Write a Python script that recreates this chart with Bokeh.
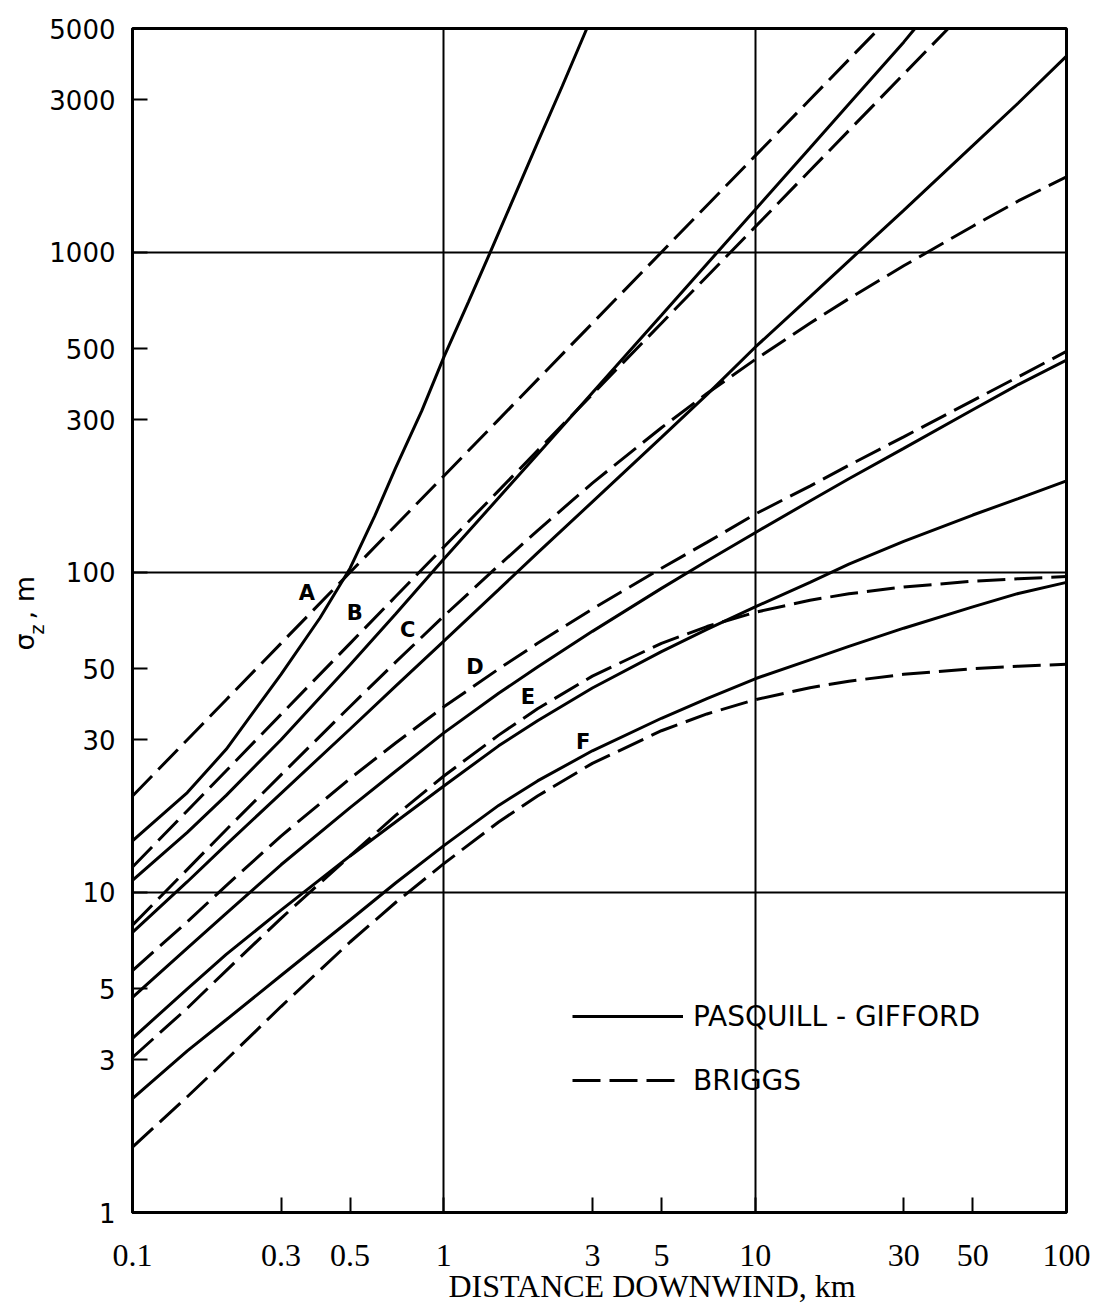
from bokeh.plotting import figure
from bokeh.models import FixedTicker, Legend, LegendItem, Title
from bokeh.core.properties import value
from bokeh.embed import file_html
from bokeh.resources import INLINE

# ---------------- data (distance km, sigma_z m) ----------------
X_TICKS = [0.1, 0.3, 0.5, 1, 3, 5, 10, 30, 50, 100]
X_TICK_LABELS = ["0.1", "0.3", "0.5", "1", "3", "5", "10", "30", "50", "100"]
Y_TICKS = [1, 3, 5, 10, 30, 50, 100, 300, 500, 1000, 3000, 5000]
Y_TICK_LABELS = ["1", "3", "5", "10", "30", "50", "100", "300", "500", "1000", "3000", "5000"]

X_KM = [0.1, 0.15, 0.2, 0.3, 0.5, 0.7, 1, 1.5, 2, 3, 5, 7, 10, 15, 20, 30, 50, 70, 100]

# Pasquill-Gifford (solid)
PG_A_X = [0.1, 0.15, 0.2, 0.3, 0.4, 0.5, 0.6, 0.7, 0.85, 1, 1.2, 1.4, 1.7, 2, 2.4, 2.88]
PG_A = [14.5, 20.5, 28, 48, 72, 103, 150, 212, 320, 470, 700, 985, 1525, 2200, 3300, 5000]
PG_B_X = [0.1, 0.15, 0.2, 0.3, 0.5, 0.7, 1, 1.5, 2, 3, 5, 7, 10, 15, 20, 30, 32.6]
PG_B = [10.9, 15.4, 20.1, 30.0, 51.4, 74.1, 110, 171, 234, 364, 635, 919, 1358, 2118, 2905, 4532, 5000]
PG_C = [7.5, 10.8, 14.1, 20.4, 32.4, 44.1, 61, 88.3, 115, 166, 264, 359, 505, 725, 940, 1352, 2153, 2926, 4100]
PG_D = [4.7, 6.7, 8.6, 12.2, 18.4, 23.9, 31.5, 41.9, 50.6, 65.4, 89.1, 108.5, 133, 167, 196, 244, 322, 386, 460]
PG_E = [3.5, 5.0, 6.4, 8.8, 13.0, 16.6, 21.5, 28.7, 34.4, 43.5, 56.5, 66.3, 78, 93, 106, 125, 151, 170, 193]
PG_F = [2.27, 3.2, 4.0, 5.5, 8.2, 10.7, 14.0, 18.7, 22.3, 27.7, 35.0, 40.3, 46.5, 53.3, 58.7, 66.9, 78.0, 85.9, 93]

# Briggs (dashed)
BR_A_X = [0.1, 0.15, 0.2, 0.3, 0.5, 0.7, 1, 1.5, 2, 3, 5, 7, 10, 15, 20, 25]
BR_A = [20, 30, 40, 60, 100, 140, 200, 300, 400, 600, 1000, 1400, 2000, 3000, 4000, 5000]
BR_B_X = [0.1, 0.15, 0.2, 0.3, 0.5, 0.7, 1, 1.5, 2, 3, 5, 7, 10, 15, 20, 30, 41.7]
BR_B = [12, 18, 24, 36, 60, 84, 120, 180, 240, 360, 600, 840, 1200, 1800, 2400, 3600, 5000]
BR_C = [7.9, 11.8, 15.7, 23.3, 38.1, 52.4, 73.0, 105, 135, 190, 283, 362, 462, 600, 716, 907, 1206, 1446, 1720]
BR_D = [5.7, 8.1, 10.5, 15.0, 22.7, 29.3, 38.0, 49.9, 60, 76.8, 103, 124, 152, 186, 216, 265, 344, 408, 490]
BR_E = [3.05, 4.35, 5.7, 8.3, 13.0, 17.4, 23.1, 31.0, 37.5, 47.4, 60, 67.7, 75, 81.8, 85.7, 90, 93.8, 95.5, 97]
BR_F = [1.6, 2.3, 3.0, 4.4, 7.0, 9.3, 12.3, 16.6, 20, 25.3, 32, 36.1, 40, 43.6, 45.7, 48, 50, 50.9, 51.6]

# stability-class letters placed beside the curves
CLASS_LETTERS = ["A", "B", "C", "D", "E", "F"]
CLASS_LETTER_X = [0.363, 0.517, 0.766, 1.258, 1.862, 2.80]
CLASS_LETTER_Y = [86, 74.5, 65.9, 50.5, 40.7, 29.4]

# ---------------- figure ----------------
p = figure(width=1114, height=1312, x_axis_type="log", y_axis_type="log",
           x_range=(0.1, 100), y_range=(1, 5000),
           output_backend="svg", toolbar_location=None,
           min_border_left=132, min_border_right=48,
           min_border_top=28, min_border_bottom=100)
p.background_fill_color = "white"
p.border_fill_color = "white"
p.outline_line_color = "black"
p.outline_line_width = 3

# grid only at the decades
p.xgrid.ticker = FixedTicker(ticks=[1, 10])
p.ygrid.ticker = FixedTicker(ticks=[10, 100, 1000])
for g in (p.xgrid, p.ygrid):
    g.grid_line_color = "black"
    g.grid_line_width = 2
    g.grid_line_alpha = 1.0

# axes
p.xaxis.ticker = FixedTicker(ticks=X_TICKS)
p.xaxis.major_label_overrides = {t: l for t, l in zip(X_TICKS, X_TICK_LABELS)}
p.yaxis.ticker = FixedTicker(ticks=Y_TICKS)
p.yaxis.major_label_overrides = {t: l for t, l in zip(Y_TICKS, Y_TICK_LABELS)}
for ax in (p.xaxis, p.yaxis):
    ax.axis_line_color = "black"
    ax.axis_line_width = 3
    ax.major_tick_in = 15
    ax.major_tick_out = 0
    ax.major_tick_line_width = 2
    ax.major_tick_line_color = "black"
    ax.minor_tick_line_color = None
    ax.major_label_text_color = "black"

p.xaxis.major_label_text_font = "Liberation Serif"
p.xaxis.major_label_text_font_size = "32px"
p.xaxis.major_label_standoff = 32
p.yaxis.major_label_text_font = "DejaVu Sans"
p.yaxis.major_label_text_font_size = "26px"
p.yaxis.major_label_standoff = 17

# ---------------- curves ----------------
LW = 3
DASH = "28 9"
pg_series = [(PG_A_X, PG_A), (PG_B_X, PG_B), (X_KM, PG_C), (X_KM, PG_D), (X_KM, PG_E), (X_KM, PG_F)]
br_series = [(BR_A_X, BR_A), (BR_B_X, BR_B), (X_KM, BR_C), (X_KM, BR_D), (X_KM, BR_E), (X_KM, BR_F)]

pg_renderers = [p.line(xs, ys, line_color="black", line_width=LW) for xs, ys in pg_series]
br_renderers = [p.line(xs, ys, line_color="black", line_width=LW, line_dash=DASH) for xs, ys in br_series]

# class letters
p.text(x=CLASS_LETTER_X, y=CLASS_LETTER_Y, text=CLASS_LETTERS,
       text_font=value("DejaVu Sans"), text_font_style="bold",
       text_font_size="21px", text_align="center", text_baseline="middle",
       text_color="black")

# ---------------- legend ----------------
legend = Legend(items=[LegendItem(label="PASQUILL - GIFFORD", renderers=[pg_renderers[0]]),
                       LegendItem(label="BRIGGS", renderers=[br_renderers[0]])],
                location=(440, 115), orientation="vertical",
                glyph_width=111, glyph_height=34, label_height=34,
                label_standoff=10, spacing=30, padding=0, margin=0,
                label_text_font="DejaVu Sans", label_text_font_size="28px",
                label_text_color="black",
                border_line_alpha=0, background_fill_alpha=0)
p.add_layout(legend)

# ---------------- axis titles (side panels) ----------------
# x title, below the tick labels
p.add_layout(Title(text="DISTANCE DOWNWIND, km", align="left", offset=316,
                   vertical_align="bottom", standoff=-6,
                   text_font="Liberation Serif", text_font_size="32px",
                   text_font_style="normal", text_color="black"), "below")
# y title: subscript "z" (inner panel) and "σ , m" (outer panel)
p.add_layout(Title(text="z", align="left", offset=578,
                   vertical_align="top", standoff=-6,
                   text_font="DejaVu Sans", text_font_size="19px",
                   text_font_style="normal", text_color="black"), "left")
p.add_layout(Title(text="σ\u00a0\u202f, m", align="left", offset=562,
                   vertical_align="bottom", standoff=-23,
                   text_font="DejaVu Sans", text_font_size="27px",
                   text_font_style="normal", text_color="black"), "left")

open("out.html", "w").write(file_html(p, INLINE))
